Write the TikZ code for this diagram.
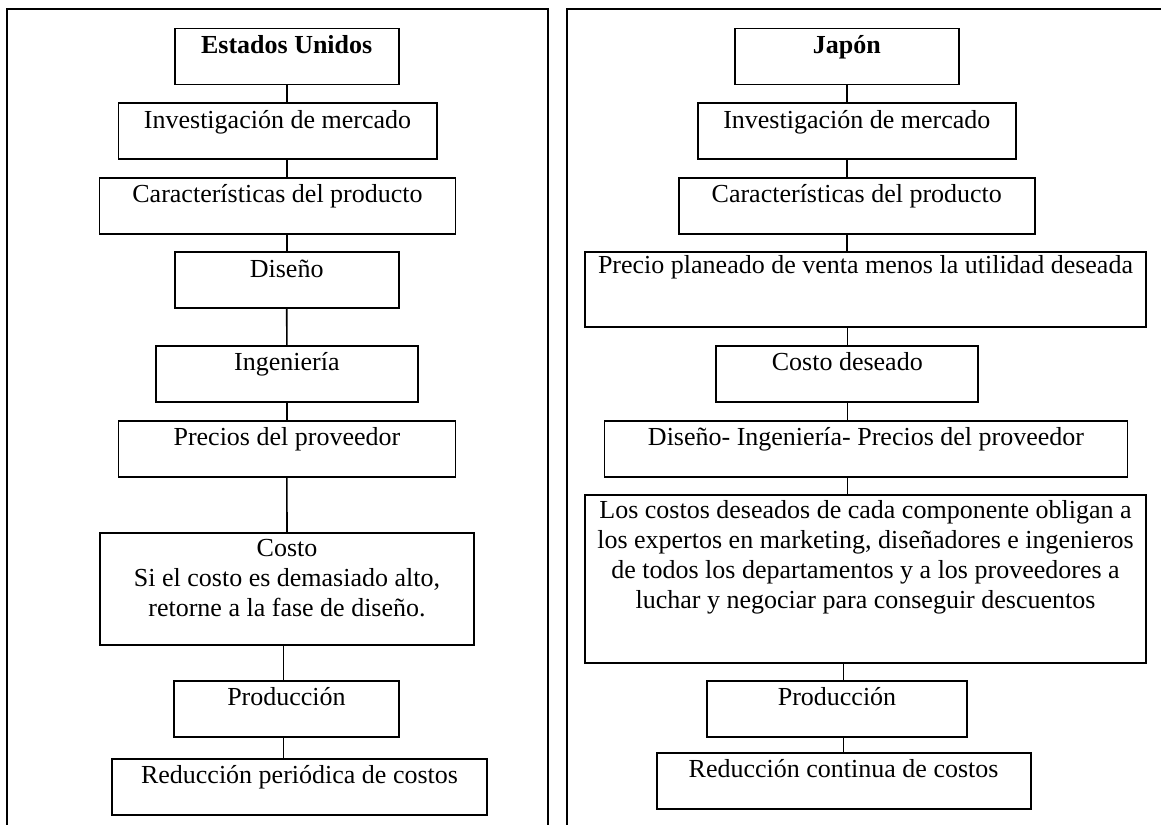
\documentclass[tikz,border=0pt]{standalone}
\usepackage{fontspec}
\setmainfont{Liberation Serif}
\tikzset{
  stage/.style={draw, line width=0.9pt, inner sep=0pt, anchor=north, align=center,
    font=\fontsize{13}{15}\selectfont, text height=12.5pt, text depth=15.5pt},
  panel/.style={line width=1pt},
  link/.style={line width=0.8pt}
}
\begin{document}
\begin{tikzpicture}[x=0.5pt,y=-0.5pt]
            \clip (0,0) rectangle (1161,824);
            % Estados Unidos
            \draw[panel] (7,840) -- (7,9.3) -- (548,9.3) -- (548,840);
            \node[stage, minimum width=112.1pt] at (286.7,27.7) (us) {\textbf{Estados Unidos}};
            \node[stage, minimum width=159.1pt] at (277.5,102.3) (inv) {Investigación de mercado};
            \node[stage, minimum width=178pt] at (277.5,176.7) (car) {Características del producto};
            \node[stage, minimum width=112.1pt] at (286.7,251.3) (dis) {Diseño};
            \node[stage, minimum width=131.1pt] at (286.9,345) (ing) {Ingeniería};
            \node[stage, minimum width=168.5pt] at (286.9,419.7) (pre) {Precios del proveedor};
            \node[stage, minimum width=187pt, text height=42pt, text depth=13.85pt] at (287,532) (cos)
                {Costo\\Si el costo es demasiado alto,\\retorne a la fase de diseño.};
            \node[stage, minimum width=112.3pt] at (286.5,680) (pro) {Producción};
            \node[stage, minimum width=187.3pt] at (299.5,758) (red) {Reducción periódica de costos};
            \draw[link] (us.south) -- (us.south |- inv.north);
            \draw[link] (inv.south -| us) -- (car.north -| us);
            \draw[link] (car.south -| dis) -- (dis.north);
            \draw[link] (dis.south) -- (ing.north);
            \draw[link] (ing) -- (pre);
            \draw[link] (pre) -- (cos);
            \draw[link] ([xshift=-1.5pt]pro.north) -- ([xshift=-1.5pt]pro.north |- cos.south);
            \draw[link] ([xshift=-1.5pt]pro.south) -- ([xshift=-1.5pt]pro.south |- red.north);
            % Japon
            \draw[panel] (567,840) -- (567,9.3) -- (1170,9.3);
            \node[stage, minimum width=111.9pt] at (846.8,27.7) (jp) {\textbf{Japón}};
            \node[stage, minimum width=159pt] at (856.8,102.3) (jinv) {Investigación de mercado};
            \node[stage, minimum width=178.2pt] at (856.8,176.7) (jcar) {Características del producto};
            \node[stage, minimum width=280.7pt, text height=10.5pt, text depth=26.85pt] at (865.5,251.3) (jpv)
                {Precio planeado de venta menos la utilidad deseada};
            \node[stage, minimum width=131pt] at (847.3,345) (jcd) {Costo deseado};
            \node[stage, minimum width=261.5pt] at (866,419.7) (jdip) {Diseño- Ingeniería- Precios del proveedor};
            \node[stage, minimum width=280.7pt, text height=56.85pt, text depth=27.15pt] at (865.5,494.3) (jlos)
                {Los costos deseados de cada componente obligan a\\los expertos en marketing, diseñadores e ingenieros\\de todos los departamentos y a los proveedores a\\luchar y negociar para conseguir descuentos};
            \node[stage, minimum width=130pt] at (837,680) (jpro) {Producción};
            \node[stage, minimum width=187pt] at (843.6,751.7) (jred) {Reducción continua de costos};
            \draw[link] (jp.south) -- (jp.south |- jinv.north);
            \draw[link] (jinv.south -| jp) -- (jcar.north -| jp);
            \draw[link] (jcar.south -| jp) -- (jpv.north -| jp);
            \draw[link] (jpv.south -| jcd) -- (jcd.north);
            \draw[link] (jcd.south) -- (jdip.north -| jcd);
            \draw[link] (jdip.south -| jcd) -- (jlos.north -| jcd);
            \draw[link] (jlos.south -| jred) -- (jpro.north -| jred);
            \draw[link] (jpro.south -| jred) -- (jred.north);
        \end{tikzpicture}
\end{document}
